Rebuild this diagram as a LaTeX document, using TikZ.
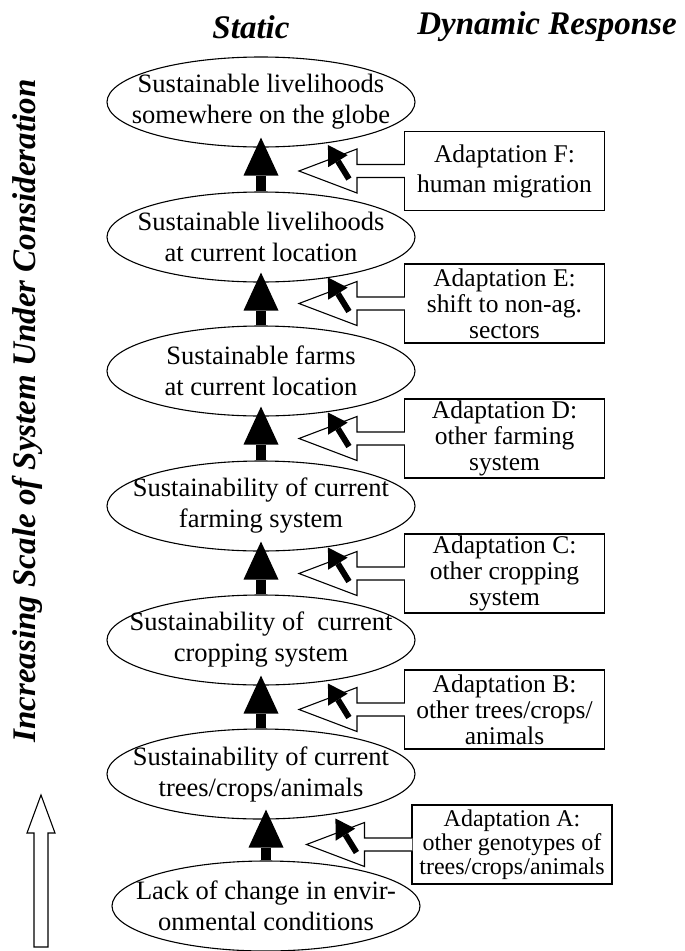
\documentclass[tikz,border=0pt]{standalone}
\usepackage{fontspec}
\setmainfont{Liberation Serif}
\usetikzlibrary{arrows.meta, shapes.geometric, calc}

\begin{document}
\begin{tikzpicture}[
    x=1pt, y=-1pt,
    oval/.style={draw, ellipse, line width=1.1pt, minimum width=308pt,
                 minimum height=90pt, inner sep=0pt},
    otext/.style={font=\fontsize{26.5}{31}\selectfont, align=center},
    adapt/.style={draw, line width=1.1pt, minimum width=200pt,
                  minimum height=79pt, inner sep=0pt, align=center,
                  font=\fontsize{25.5}{26}\selectfont},
    head/.style={font=\fontsize{33}{38}\selectfont\bfseries\itshape},
    bigarr/.style={line width=10pt,
                   -{Triangle[length=38pt, width=35pt, line width=0pt]}},
    cursor/.style={line width=6pt,
                   -{Triangle[length=19pt, width=23pt, line width=0pt]}},
    hollow/.style={draw, fill=white, line width=1.1pt, line join=miter},
]
\useasboundingbox (0,0) rectangle (685,951);

% ================================================================
%  Headings
% ================================================================

\node[head] (static) at (251,27) {Static};
\node[head] (dynamic) at (547,27) {Dynamic Response};
\node[head, rotate=90] (scale) at (27,411)
    {Increasing Scale of System Under Consideration};

% scale arrow (bottom left)
\draw[hollow] (34,947) -- (34,833) -- (27,833) -- (41,795)
    -- (55,833) -- (48,833) -- (48,947) -- cycle;

% ================================================================
%  Static column: ellipses
% ================================================================

\node[oval, label={[otext]center:{Sustainable livelihoods\\somewhere on the globe}}]
    (e1) at (261,102) {};
\node[oval, label={[otext]center:{Sustainable livelihoods\\at current location}}]
    (e2) at (261,237) {};
\node[oval, label={[otext]center:{Sustainable farms\\at current location}}]
    (e3) at (261,371) {};
\node[oval, label={[otext]center:{Sustainability of current\\farming system}}]
    (e4) at (261,506) {};
\node[oval, label={[otext]center:{Sustainability of~ current\\cropping system}}]
    (e5) at (261,640) {};
\node[oval, label={[otext]center:{Sustainability of current\\trees/crops/animals}}]
    (e6) at (261,774) {};
\node[oval, label={[otext]center:{Lack of change in envir-\\onmental conditions}}]
    (e7) at (266,906) {};

\draw[bigarr] (e2.north) -- ([yshift=10pt]e1.south);
\draw[bigarr] (e3.north) -- ([yshift=10pt]e2.south);
\draw[bigarr] (e4.north) -- ([yshift=10pt]e3.south);
\draw[bigarr] (e5.north) -- ([yshift=10pt]e4.south);
\draw[bigarr] (e6.north) -- ([yshift=10pt]e5.south);
\draw[bigarr] (e7.north) -- ([yshift=10pt]e7.north |- e6.south);

% ================================================================
%  Dynamic response column: adaptations
% ================================================================

\node[adapt] (bF) at (504.5,171) {Adaptation F:\\[4pt]human migration};
\node[adapt] (bE) at (504.5,303.5) {Adaptation E:\\shift to non-ag.\\sectors};
\node[adapt] (bD) at (504.5,438.5) {Adaptation D:\\other farming\\system};
\node[adapt] (bC) at (504.5,573.5) {Adaptation C:\\other cropping\\system};
\node[adapt] (bB) at (504.5,709.5) {Adaptation B:\\other trees/crops/\\animals};
\node[adapt, font=\fontsize{24}{24}\selectfont] (bA) at (512,844.5)
    {Adaptation A:\\other genotypes of\\trees/crops/animals};

% hollow arrows out of the boxes
\draw[hollow] ([shift={(1,-6.5)}]bF.west) -- ++(-48,0) -- ++(0,-15.5)
    -- ++(-58,22) -- ++(58,22) -- ++(0,-15.5) -- ++(48,0);
\draw[hollow] ([shift={(1,-6.5)}]bE.west) -- ++(-48,0) -- ++(0,-15.5)
    -- ++(-58,22) -- ++(58,22) -- ++(0,-15.5) -- ++(48,0);
\draw[hollow] ([shift={(1,-6.5)}]bD.west) -- ++(-48,0) -- ++(0,-15.5)
    -- ++(-58,22) -- ++(58,22) -- ++(0,-15.5) -- ++(48,0);
\draw[hollow] ([shift={(1,-6.5)}]bC.west) -- ++(-48,0) -- ++(0,-15.5)
    -- ++(-58,22) -- ++(58,22) -- ++(0,-15.5) -- ++(48,0);
\draw[hollow] ([shift={(1,-6.5)}]bB.west) -- ++(-48,0) -- ++(0,-15.5)
    -- ++(-58,22) -- ++(58,22) -- ++(0,-15.5) -- ++(48,0);
\draw[hollow] ([shift={(1,-6.5)}]bA.west) -- ++(-48,0) -- ++(0,-15.5)
    -- ++(-58,22) -- ++(58,22) -- ++(0,-15.5) -- ++(48,0);

% pointer arrows
\draw[cursor] ([shift={(-55,8)}]bF.west) -- ++(-21,-34);
\draw[cursor] ([shift={(-55,8)}]bE.west) -- ++(-21,-34);
\draw[cursor] ([shift={(-55,8)}]bD.west) -- ++(-21,-34);
\draw[cursor] ([shift={(-55,8)}]bC.west) -- ++(-21,-34);
\draw[cursor] ([shift={(-55,8)}]bB.west) -- ++(-21,-34);
\draw[cursor] ([shift={(-55,8)}]bA.west) -- ++(-21,-34);

\end{tikzpicture}
\end{document}
